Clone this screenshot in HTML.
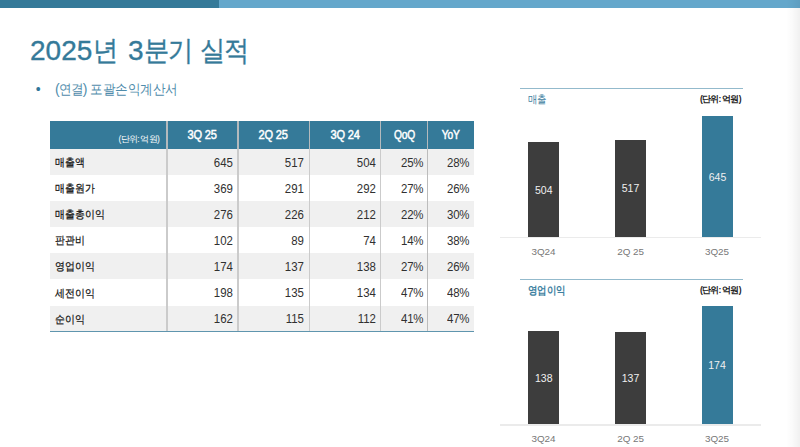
<!DOCTYPE html>
<html lang="ko">
<head>
<meta charset="utf-8">
<title>2025년 3분기 실적</title>
<style>
*{margin:0;padding:0;box-sizing:border-box}
html,body{width:800px;height:447px;overflow:hidden;background:#fff}
body{font-family:"Liberation Sans",sans-serif;position:relative;color:#222}
.abs{position:absolute}
.topbar-d{left:0;top:0;width:219px;height:7.5px;background:#357a99}
.topbar-l{left:219px;top:0;width:581px;height:7.5px;background:#64a7cb}
.edge{right:0;top:0;width:14px;height:447px;background:linear-gradient(to right,rgba(0,0,0,0),rgba(0,0,0,0.018) 45%,rgba(0,0,0,0.06))}
h1{position:absolute;left:30px;top:33px;font-size:28px;font-weight:400;color:#357a99;line-height:36px;white-space:nowrap;-webkit-text-stroke:0.35px #357a99}
.k{display:inline-block;transform:scaleX(.9);transform-origin:0 50%;letter-spacing:-0.06em;margin-right:calc(var(--n)*-0.0955em)}
.sub{left:34.7px;top:79.7px;font-size:14px;color:#4f8cab;line-height:18px;white-space:nowrap}
.sub .dot{display:inline-block;width:19.2px;margin-left:1.1px;color:#2f7699}
.sub .p{letter-spacing:-0.5px}
table{position:absolute;left:50px;top:121px;border-collapse:collapse;table-layout:fixed;width:424.3px}
th{background:#357a99;color:#fff;height:28px;font-weight:700;font-size:11.5px;text-align:center;padding:0;letter-spacing:-0.2px}
th:first-child{text-align:right;font-weight:400;font-size:8.5px;padding-right:7.8px;padding-top:10px;letter-spacing:-0.7px}
td .k{letter-spacing:0}
.n{display:inline-block;transform:scaleX(.915);transform-origin:100% 50%}
.hx{display:inline-block;transform:scaleX(.905);font-size:12.2px}
.nx{display:inline-block;transform:scaleX(.84);font-size:12.2px}
.hx,.nx{font-weight:400;-webkit-text-stroke:0.5px #fff}
td{height:26.1px;text-align:right;padding:1px 5px 0 0;color:#303030;font-size:12.5px}
td:nth-child(5){letter-spacing:-0.3px;padding-right:5.2px}
td:nth-child(6){letter-spacing:-0.3px;padding-right:5.2px}
td:first-child{text-align:left;padding-left:5.2px;font-size:11.25px;color:#111;-webkit-text-stroke:0.22px #111}
tbody tr:nth-child(odd) td{background:#f0f0f0}
.tb{left:50px;top:331.1px;width:424.3px;height:1.3px;background:#5f95ae}
.vs{top:121px;height:210px;width:1.6px;background:#cbcbcb}
.vh{top:121px;height:28px;width:1.6px;background:#b4babd}
.chart-line{height:1.2px;background:#93bacc;left:520px;width:223px;margin-top:-.1px}
.ctitle{left:527.6px;font-size:10.8px;margin-top:0px;color:#3d80a0;line-height:14px;white-space:nowrap}
.ctitle .k{letter-spacing:0;transform:scaleX(.86)}
.cunit{left:680px;width:60.8px;text-align:right;font-size:8.5px;font-weight:700;color:#222;line-height:14px;white-space:nowrap;letter-spacing:-0.75px;margin-top:.1px}
.bar{width:31px;color:#f0f0f0;font-size:10.5px;display:flex;align-items:center;justify-content:center}
.dk{background:#3d3d3d}
.tl{background:#357a99}
.axis{left:500px;width:261px;height:1.5px;background:#ebebeb}
.xl{width:60px;text-align:center;font-size:9.9px;margin-top:-.3px;color:#777;line-height:14px;white-space:nowrap}
</style>
</head>
<body>
<div class="abs topbar-d"></div>
<div class="abs topbar-l"></div>
<div class="abs edge"></div>

<h1>2025<span class="k" style="--n:1;margin-left:1px;margin-right:calc(-0.0955em + 3.3px)">년</span> 3<span class="k" style="--n:2">분기</span> <span class="k" style="--n:2;margin-left:1.2px">실적</span></h1>
<div class="abs sub"><span class="dot">•</span><span class="p">(<span class="k" style="--n:2">연결</span>) </span><span class="k" style="--n:7;letter-spacing:-0.003em">포괄손익계산서</span></div>

<table>
<colgroup><col style="width:117px"><col style="width:71px"><col style="width:71px"><col style="width:72px"><col style="width:47px"><col style="width:46.3px"></colgroup>
<thead>
<tr><th>(단위: 억원)</th><th><span class="hx">3Q 25</span></th><th><span class="hx">2Q 25</span></th><th><span class="hx">3Q 24</span></th><th><span class="nx">QoQ</span></th><th><span class="nx">YoY</span></th></tr>
</thead>
<tbody>
<tr><td><span class="k" style="--n:3">매출액</span></td><td><span class="n">645</span></td><td><span class="n">517</span></td><td><span class="n">504</span></td><td><span class="n">25%</span></td><td><span class="n">28%</span></td></tr>
<tr><td><span class="k" style="--n:4">매출원가</span></td><td><span class="n">369</span></td><td><span class="n">291</span></td><td><span class="n">292</span></td><td><span class="n">27%</span></td><td><span class="n">26%</span></td></tr>
<tr><td><span class="k" style="--n:5">매출총이익</span></td><td><span class="n">276</span></td><td><span class="n">226</span></td><td><span class="n">212</span></td><td><span class="n">22%</span></td><td><span class="n">30%</span></td></tr>
<tr><td><span class="k" style="--n:3">판관비</span></td><td><span class="n">102</span></td><td><span class="n">89</span></td><td><span class="n">74</span></td><td><span class="n">14%</span></td><td><span class="n">38%</span></td></tr>
<tr><td><span class="k" style="--n:4">영업이익</span></td><td><span class="n">174</span></td><td><span class="n">137</span></td><td><span class="n">138</span></td><td><span class="n">27%</span></td><td><span class="n">26%</span></td></tr>
<tr><td><span class="k" style="--n:4">세전이익</span></td><td><span class="n">198</span></td><td><span class="n">135</span></td><td><span class="n">134</span></td><td><span class="n">47%</span></td><td><span class="n">48%</span></td></tr>
<tr><td><span class="k" style="--n:3">순이익</span></td><td><span class="n">162</span></td><td><span class="n">115</span></td><td><span class="n">112</span></td><td><span class="n">41%</span></td><td><span class="n">47%</span></td></tr>
</tbody>
</table>
<div class="abs vs" style="left:166.1px"></div>
<div class="abs vs" style="left:237.2px"></div>
<div class="abs vs" style="left:308.7px"></div>
<div class="abs vs" style="left:379.8px"></div>
<div class="abs vs" style="left:427px;width:1.1px;background:#bcbcbc"></div>
<div class="abs vh" style="left:166.1px"></div>
<div class="abs vh" style="left:237.2px"></div>
<div class="abs vh" style="left:308.7px"></div>
<div class="abs vh" style="left:379.8px"></div>
<div class="abs vh" style="left:427px;width:1.1px;background:#b4babd"></div>
<div class="abs tb"></div>

<!-- chart 1 -->
<div class="abs chart-line" style="top:88px"></div>
<div class="abs ctitle" style="top:92px"><span class="k" style="--n:2">매출</span></div>
<div class="abs cunit" style="top:92px">(단위: 억원)</div>
<div class="abs bar dk" style="left:528.3px;top:142px;height:95px">504</div>
<div class="abs bar dk" style="left:615px;top:139.5px;height:97.5px">517</div>
<div class="abs bar tl" style="left:702px;top:116px;height:121px">645</div>
<div class="abs axis" style="top:236.5px"></div>
<div class="abs xl" style="left:513.5px;top:245px">3Q24</div>
<div class="abs xl" style="left:600.6px;top:245px">2Q 25</div>
<div class="abs xl" style="left:687px;top:245px">3Q25</div>

<!-- chart 2 -->
<div class="abs chart-line" style="top:279px"></div>
<div class="abs ctitle" style="top:283px;font-weight:700"><span class="k" style="--n:4">영업이익</span></div>
<div class="abs cunit" style="top:282.5px">(단위: 억원)</div>
<div class="abs bar dk" style="left:528.3px;top:331px;height:93px">138</div>
<div class="abs bar dk" style="left:615px;top:331.5px;height:92.5px">137</div>
<div class="abs bar tl" style="left:701.5px;top:306px;height:118px">174</div>
<div class="abs axis" style="top:424px"></div>
<div class="abs xl" style="left:513.5px;top:432px">3Q24</div>
<div class="abs xl" style="left:600.6px;top:432px">2Q 25</div>
<div class="abs xl" style="left:687px;top:432px">3Q25</div>
</body>
</html>
